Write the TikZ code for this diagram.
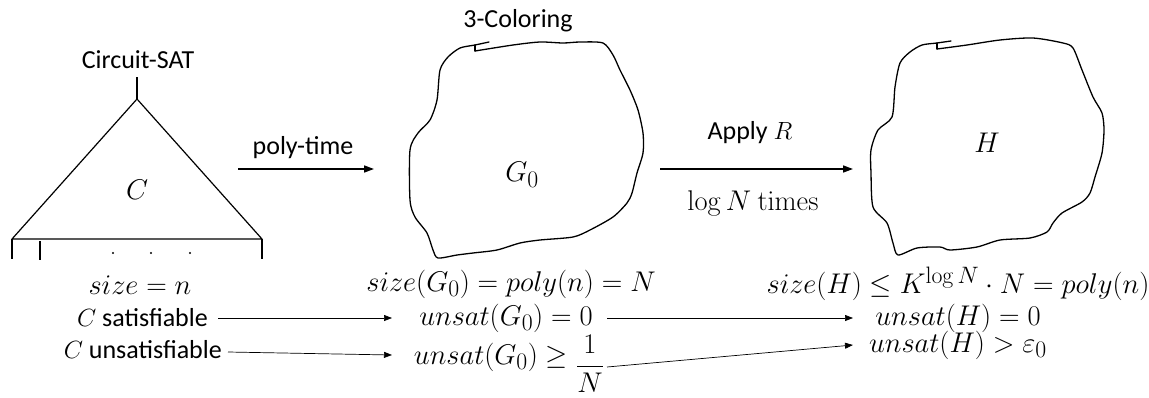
\documentclass[tikz,border=0pt]{standalone}
\usepackage{graphicx}
\usepackage[no-math]{fontspec}
\setmainfont{Carlito}
\usetikzlibrary{arrows.meta,calc}
\newcommand{\scmath}[1]{\scalebox{1.145}{$#1$}}
\begin{document}
\begin{tikzpicture}[x=1pt,y=-1pt,
  lbl/.style={font=\fontsize{26}{31}\selectfont, inner sep=0pt},
  mth/.style={font=\fontsize{24.88}{30}\selectfont, inner sep=0pt},
  thinarrow/.style={-{Triangle[length=8pt,width=6pt]}, line width=0.7pt},
  thickarrow/.style={-{Triangle[length=10pt,width=7pt]}, line width=1.6pt},
  shapeline/.style={line width=1.2pt, line join=round},
  blob/.style={line width=1.3pt, line join=round, line cap=round},
]
\useasboundingbox (0,0) rectangle (1149,397);

% ---- Circuit (triangle)
\coordinate (top) at (137,99);
\coordinate (bl) at (12,239);
\coordinate (br) at (262,239);
\coordinate (stem) at (137,77);
\draw[shapeline] (bl) -- (top) -- (br) -- cycle;
\draw[shapeline] (top) -- (stem);
\draw[shapeline] (bl) -- ++(0,20);
\draw[shapeline] (40,241) -- (40,260);
\draw[shapeline] (br) -- ++(0,20);
\foreach \x in {113,151,190} \fill (\x,253) circle (1.2pt);
\node[lbl] (cs) at (138,60) {Circuit-SAT};
\node[mth] (C) at (137,190) {\scmath{C}};

% ---- G0 blob
\draw[blob] plot[smooth, tension=0.45] coordinates {(475,51) (513,45) (540,42) (563,43) (580,42) (603,43) (613,55) (620,70) (630,90) (638,110) (643,133) (643,153) (637,173) (632,193) (627,203) (613,217) (590,230) (573,237) (540,240) (520,243) (497,250) (473,253) (457,255) (438,258) (433,250) (427,233) (415,217) (410,200) (410,150) (418,133) (430,120) (437,100) (440,70) (448,57) (460,48) (475,45) (489,42)};
\draw[blob] (475,51) -- (475,45);
\node[lbl] (tc) at (518,21) {3-Coloring};
\node[mth] (G) at (522,175) {\scmath{G_0}};

% ---- H blob
\draw[blob] plot[smooth, tension=0.45] coordinates {(937,49) (967,45) (1000,40) (1033,38) (1063,43) (1073,48) (1082,70) (1093,97) (1102,113) (1104,130) (1102,153) (1095,177) (1090,193) (1082,202) (1062,213) (1053,223) (1047,232) (1030,238) (1000,240) (977,247) (950,250) (940,247) (917,248) (898,255) (893,243) (887,223) (873,207) (871,173) (871,150) (878,130) (892,117) (895,87) (900,63) (910,52) (922,45) (937,43) (951,41)};
\draw[blob] (937,49) -- (937,43);
\node[mth] (H) at (987,143) {\scmath{H}};

% ---- top arrows
\coordinate (p1) at (238,169);
\coordinate (p2) at (374,169);
\draw[thickarrow] (p1) -- (p2);
\node[lbl] (pt) at (303,148) {poly-time};
\coordinate (r1) at (660,169);
\coordinate (r2) at (853,169);
\draw[thickarrow] (r1) -- (r2);
\node[lbl] (ar) at (750,133) {Apply $R$};
\node[mth] (ln) at (753,203) {\scmath{\log N\ \mathrm{times}}};

% ---- bottom rows
\node[mth] (sz) at (140,285) {\scmath{size = n}};
\node[lbl,anchor=east] (sat) at (208,318) {$C$ satisfiable};
\node[lbl,anchor=east] (uns) at (222,350) {$C$ unsatisfiable};
\node[mth] (sg) at (511,284) {\scmath{size(G_0) = poly(n) = N}};
\node[mth] (u0) at (506,318) {\scmath{unsat(G_0) = 0}};
\node[mth,anchor=base] (ug) at (509,364) {\scmath{unsat(G_0) \geq \raisebox{-8pt}{$\displaystyle\frac{1}{N}$}}};
\node[mth] (sh) at (958,284) {\scmath{size(H) \leq K^{\log N}\cdot N = poly(n)}};
\node[mth] (h0) at (958,318) {\scmath{unsat(H) = 0}};
\node[mth] (hg) at (958,345) {\scmath{unsat(H) > \varepsilon_0}};

% x positions of connector ends
\coordinate (xa) at (218,0);
\coordinate (xb) at (228,0);
\coordinate (xc) at (392,0);
\coordinate (xd) at (607,0);
\coordinate (xe) at (853,0);

\draw[thinarrow] (xa |- sat.east) -- (xc |- u0.west);
\draw[thinarrow] ($(xb |- uns.east)+(0,2)$) -- ($(xc |- ug.base)+(0,-9)$);
\draw[thinarrow] (xd |- u0.east) -- (xe |- h0.west);
\draw[thinarrow] ($(xd |- ug.base)+(0,3)$) -- (xe |- hg.west);
\end{tikzpicture}
\end{document}
